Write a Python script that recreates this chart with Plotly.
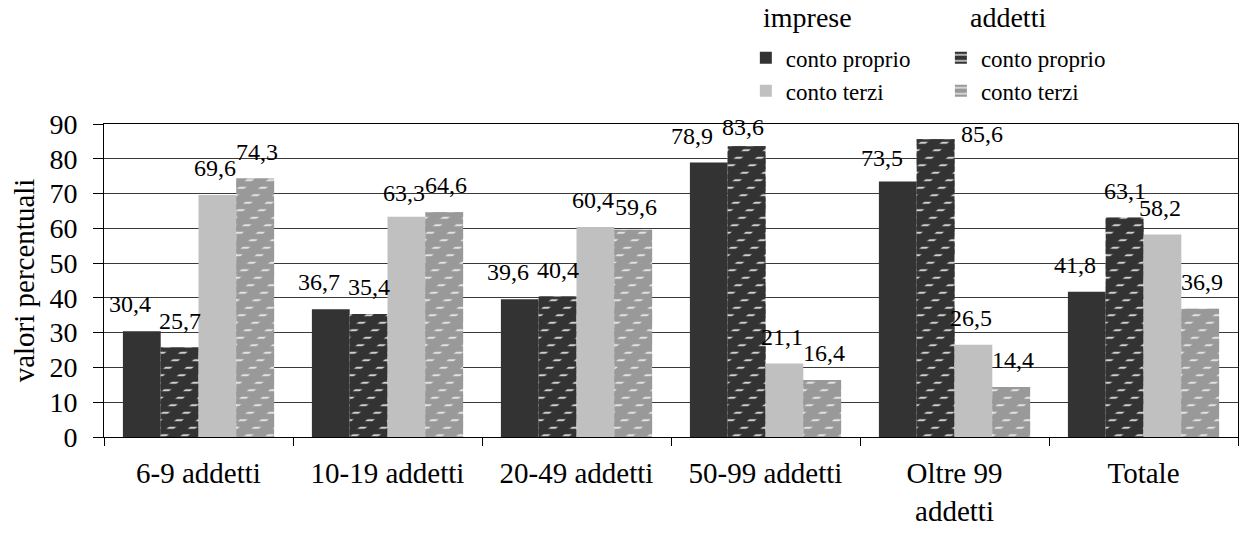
import plotly.graph_objects as go

# Classi di addetti (asse x)
categorie = ["6-9 addetti", "10-19 addetti", "20-49 addetti", "50-99 addetti",
             "Oltre 99<br>addetti", "Totale"]

# Valori percentuali per serie
imprese_conto_proprio = [30.4, 36.7, 39.6, 78.9, 73.5, 41.8]
addetti_conto_proprio = [25.7, 35.4, 40.4, 83.6, 85.6, 63.1]
imprese_conto_terzi = [69.6, 63.3, 60.4, 21.1, 26.5, 58.2]
addetti_conto_terzi = [74.3, 64.6, 59.6, 16.4, 14.4, 36.9]

y_ticks = [0, 10, 20, 30, 40, 50, 60, 70, 80, 90]

FONT = "Liberation Serif, Times New Roman, DejaVu Serif, serif"
DARK = "#333333"
LIGHT = "#c0c0c0"
MID = "#999999"

BAR_W = 0.2
# (nome, valori, colore base, tratteggio chiaro o None, legenda, scostamento etichetta in px)
serie = [
    ("conto proprio", imprese_conto_proprio, DARK, None, "legend", -12),
    ("conto proprio", addetti_conto_proprio, DARK, "#cfcfcf", "legend2", 0),
    ("conto terzi", imprese_conto_terzi, LIGHT, None, "legend", -2),
    ("conto terzi", addetti_conto_terzi, MID, "#e2e2e2", "legend2", 2),
]
offsets = [-0.4, -0.2, 0.0, 0.2]

# spostamenti puntuali di alcune etichette (categoria, serie) -> (dx, dy) px
nudges = {(3, 1): (-4, -8), (4, 1): (46, -22), (4, 0): (-4, -4), (3, 0): (-5, 0),
          (1, 2): (0, -3), (2, 2): (0, 0), (2, 3): (1, -4)}

fig = go.Figure()

for k, (name, vals, base, dash, leg, dx) in enumerate(serie):
    marker = dict(color=base, line=dict(width=0))
    if dash:
        marker["pattern"] = dict(shape="-", fgcolor=dash, bgcolor=base,
                                 size=7.5, solidity=0.27, fillmode="replace")
    fig.add_trace(go.Bar(
        x=categorie, y=vals, name=name, width=BAR_W, offset=offsets[k],
        marker=marker, legend=leg, showlegend=True,
    ))
    if dash:
        # tagli diagonali: spezzano le righe in trattini sfalsati
        fig.add_trace(go.Bar(
            x=categorie, y=vals, width=BAR_W, offset=offsets[k],
            marker=dict(color="rgba(0,0,0,0)", line=dict(width=0),
                        pattern=dict(shape="/", fgcolor=base,
                                     bgcolor="rgba(0,0,0,0)", size=15,
                                     solidity=0.65, fillmode="replace")),
            showlegend=False, hoverinfo="skip",
        ))

# Etichette dei valori sopra le barre
annotations = []
for k, (name, vals, base, dash, leg, dx) in enumerate(serie):
    for i, v in enumerate(vals):
        ndx, ndy = nudges.get((i, k), (0, 0))
        annotations.append(dict(
            x=i + offsets[k] + BAR_W / 2, y=v, xref="x", yref="y",
            text=f"{v:.1f}".replace(".", ","), showarrow=False,
            yanchor="bottom", xanchor="center",
            xshift=dx + ndx, yshift=12 + ndy,
            font=dict(family=FONT, size=24, color="#000000"),
        ))

# Intestazioni dei due gruppi di legenda
for text, xpos in (("imprese", 0.579), ("addetti", 0.762)):
    annotations.append(dict(
        x=xpos, y=1.339, xref="paper", yref="paper", text=text,
        showarrow=False, xanchor="left", yanchor="middle",
        font=dict(family=FONT, size=28, color="#000000"),
    ))

legend_common = dict(
    y=1.28, xanchor="left", yanchor="top",
    font=dict(family=FONT, size=23), traceorder="normal",
    bgcolor="rgba(0,0,0,0)", borderwidth=0, tracegroupgap=0,
    itemclick=False, itemwidth=30,
)

fig.update_layout(
    width=1240, height=536,
    margin=dict(l=104, r=2, t=124, b=99),
    paper_bgcolor="white", plot_bgcolor="white",
    barmode="overlay",
    font=dict(family=FONT, color="#000000"),
    annotations=annotations,
    legend=dict(x=0.566, **legend_common),
    legend2=dict(x=0.738, **legend_common),
    xaxis=dict(
        type="category", range=[-0.5, len(categorie) - 0.5],
        showline=True, linecolor="#000000", linewidth=1, mirror=True,
        ticks="outside", tickson="boundaries", ticklen=8, tickcolor="#000000",
        tickfont=dict(family=FONT, size=29), ticklabelstandoff=10,
        showgrid=False,
    ),
    yaxis=dict(
        range=[0, 90], tickvals=y_ticks,
        showline=True, linecolor="#000000", linewidth=1, mirror=True,
        ticks="outside", ticklen=10, tickcolor="#000000",
        tickfont=dict(family=FONT, size=28), ticklabelstandoff=10,
        showgrid=True, gridcolor="#3a3a3a", gridwidth=1,
        zeroline=False,
        title=dict(text="valori percentuali", font=dict(family=FONT, size=29),
                   standoff=6),
    ),
)

fig.write_html("out.html")
